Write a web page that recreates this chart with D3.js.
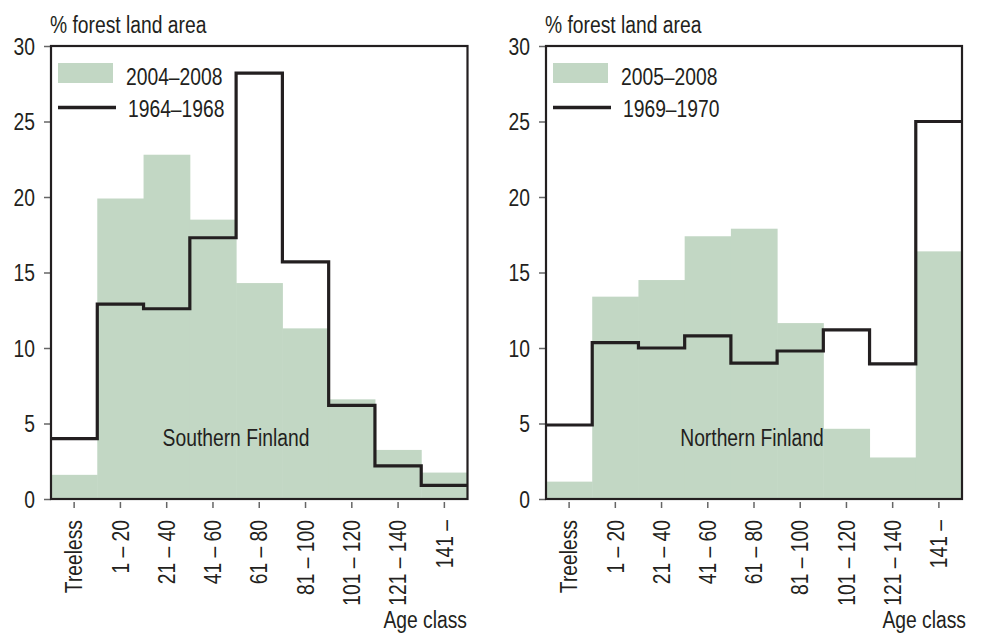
<!DOCTYPE html>
<html>
<head>
<meta charset="utf-8">
<script src="https://cdn.jsdelivr.net/npm/d3@7"></script>
<style>
  html, body { margin: 0; padding: 0; background: #fff; }
  svg text { font-family: "Liberation Sans", Arial, sans-serif; fill: #231f20; }
</style>
</head>
<body>
<div id="chart"></div>
<script>
// age classes shared by both panels
var categories = ["Treeless", "1 – 20", "21 – 40", "41 – 60", "61 – 80", "81 – 100", "101 – 120", "121 – 140", "141 –"];
var yTicks = [0, 5, 10, 15, 20, 25, 30];

// Southern Finland
var southRecent = [1.6, 19.9, 22.8, 18.5, 14.3, 11.3, 6.6, 3.25, 1.75];
var southOld = [4.0, 12.9, 12.6, 17.3, 28.2, 15.7, 6.2, 2.2, 0.9];

// Northern Finland
var northRecent = [1.15, 13.4, 14.5, 17.4, 17.9, 11.65, 4.65, 2.75, 16.4];
var northOld = [4.9, 10.35, 10.0, 10.8, 9.0, 9.8, 11.2, 8.95, 25.0];

var fillColor = "#c2d7c4";
var inkColor = "#231f20";
var fontSize = 23.5;

var svg = d3.select("#chart").append("svg")
  .attr("width", 981)
  .attr("height", 637);

function drawPanel(opts) {
  var left = opts.left, right = opts.right;
  var top = 46, bottom = 499;

  var x = d3.scaleBand().domain(categories).range([left, right]).padding(0);
  var y = d3.scaleLinear().domain([0, 30]).range([bottom, top]);

  var g = svg.append("g");

  // bars for the recent inventory
  g.selectAll("rect.bar")
    .data(opts.recent)
    .enter()
    .append("rect")
      .attr("class", "bar")
      .attr("x", function(d, i) { return x(categories[i]); })
      .attr("width", x.bandwidth() + 0.5)
      .attr("y", function(d) { return y(d); })
      .attr("height", function(d) { return bottom - y(d); })
      .attr("fill", fillColor);

  // step line for the old inventory
  var pts = opts.old.map(function(d, i) { return [x(categories[i]), y(d)]; });
  pts.push([right, y(opts.old[opts.old.length - 1])]);
  var line = d3.line().curve(d3.curveStepAfter);
  g.append("path")
    .attr("d", line(pts))
    .attr("fill", "none")
    .attr("stroke", inkColor)
    .attr("stroke-width", 3.2)
    .attr("stroke-linejoin", "miter");

  // y axis ticks + labels
  var yAxis = d3.axisLeft(y).tickValues(yTicks).tickSize(7).tickPadding(9).tickFormat(d3.format("d"));
  var ya = g.append("g").attr("transform", "translate(" + left + ",0)").call(yAxis);
  ya.select(".domain").remove();
  ya.selectAll(".tick line").attr("stroke", "#666").attr("stroke-width", 1.5);
  ya.selectAll(".tick text").attr("font-size", fontSize).attr("fill", inkColor).attr("dy", "0.36em");

  // x axis ticks + rotated labels
  var xAxis = d3.axisBottom(x).tickSize(6).tickSizeOuter(0);
  var xa = g.append("g").attr("transform", "translate(0," + (bottom + 3) + ")").call(xAxis);
  xa.select(".domain").remove();
  xa.selectAll(".tick line").attr("stroke", "#666").attr("stroke-width", 1.5);
  xa.selectAll(".tick text")
    .attr("font-size", fontSize)
    .attr("fill", inkColor)
    .attr("text-anchor", "end")
    .attr("transform", "rotate(-90)")
    .attr("x", -18)
    .attr("y", 0)
    .attr("dy", "0.35em");

  // frame
  g.append("rect")
    .attr("x", left).attr("y", top)
    .attr("width", right - left).attr("height", bottom - top)
    .attr("fill", "none")
    .attr("stroke", inkColor)
    .attr("stroke-width", 2.2);

  // axis title
  g.append("text")
    .attr("x", left - 1).attr("y", 33)
    .attr("font-size", fontSize)
    .text("% forest land area");

  g.append("text")
    .attr("x", opts.ageRight).attr("y", 628)
    .attr("text-anchor", "end")
    .attr("font-size", fontSize)
    .text("Age class");

  // legend
  g.append("rect")
    .attr("x", left + 7).attr("y", 63)
    .attr("width", 55).attr("height", 20)
    .attr("fill", fillColor);
  g.append("text")
    .attr("x", left + 75).attr("y", 85)
    .attr("font-size", fontSize)
    .text(opts.recentLabel);
  g.append("line")
    .attr("x1", left + 7).attr("x2", left + 65)
    .attr("y1", 107.5).attr("y2", 107.5)
    .attr("stroke", inkColor)
    .attr("stroke-width", 3.6);
  g.append("text")
    .attr("x", left + 77).attr("y", 117)
    .attr("font-size", fontSize)
    .text(opts.oldLabel);

  // region name
  g.append("text")
    .attr("x", opts.nameX).attr("y", 446)
    .attr("text-anchor", "middle")
    .attr("font-size", fontSize)
    .text(opts.name);
}

drawPanel({
  left: 51, right: 467.5,
  recent: southRecent, old: southOld,
  recentLabel: "2004–2008", oldLabel: "1964–1968",
  name: "Southern Finland", nameX: 236, ageRight: 467
});

drawPanel({
  left: 546, right: 962,
  recent: northRecent, old: northOld,
  recentLabel: "2005–2008", oldLabel: "1969–1970",
  name: "Northern Finland", nameX: 752, ageRight: 966
});

// no narrow font installed: squeeze every label to a condensed width
svg.selectAll("text").each(function() {
  var w = this.getComputedTextLength();
  d3.select(this)
    .attr("textLength", w * 0.82)
    .attr("lengthAdjust", "spacingAndGlyphs");
});
</script>
</body>
</html>
